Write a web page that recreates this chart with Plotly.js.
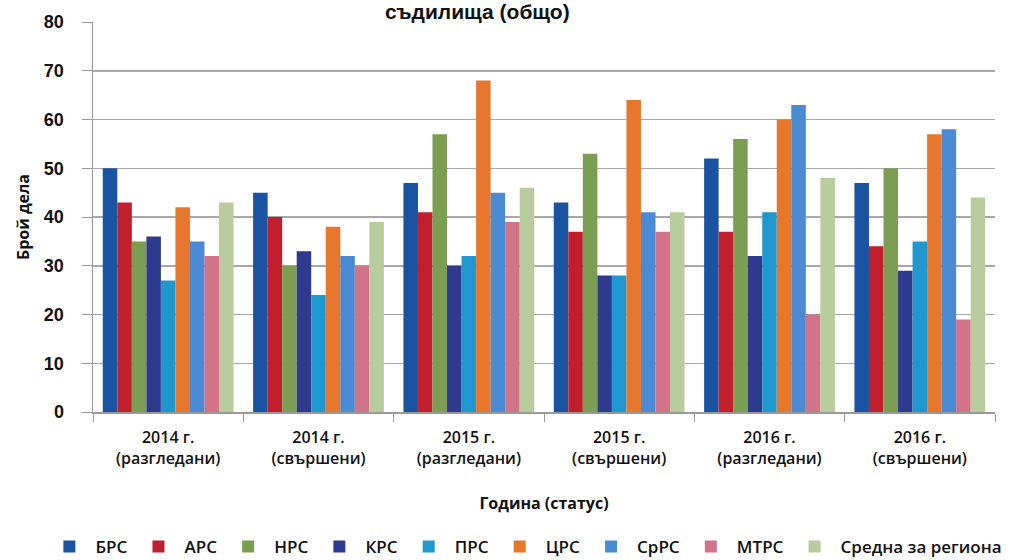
<!DOCTYPE html>
<html><head><meta charset="utf-8">
<script src="https://cdn.plot.ly/plotly-3.0.1.min.js"></script>
<style>html,body{margin:0;padding:0;background:#fff}#chart{width:1014px;height:560px}</style>
</head><body><div id="chart"></div>
<script>
var categories = ["2014 г.<br>(разгледани)", "2014 г.<br>(свършени)", "2015 г.<br>(разгледани)", "2015 г.<br>(свършени)", "2016 г.<br>(разгледани)", "2016 г.<br>(свършени)"];
var seriesNames = ["БРС", "АРС", "НРС", "КРС", "ПРС", "ЦРС", "СрРС", "МТРС", "Средна за региона"];
var brs   = [50, 45, 47, 43, 52, 47];
var ars   = [43, 40, 41, 37, 37, 34];
var nrs   = [35, 30, 57, 53, 56, 50];
var krs   = [36, 33, 30, 28, 32, 29];
var prs   = [27, 24, 32, 28, 41, 35];
var tsrs  = [42, 38, 68, 64, 60, 57];
var srrs  = [35, 32, 45, 41, 63, 58];
var mtrs  = [32, 30, 39, 37, 20, 19];
var avg   = [43, 39, 46, 41, 48, 44];
var seriesValues = [brs, ars, nrs, krs, prs, tsrs, srrs, mtrs, avg];
var colors = ["#1b53a3", "#c21f2e", "#7b9e52", "#2e3a8e", "#1e98cf", "#e8772e", "#4a8bd3", "#d27389", "#b9cc9e"];

var traces = seriesNames.map(function(n, i){
  return {type:'bar', name:n, x:categories, y:seriesValues[i],
    marker:{color:colors[i], line:{width:0}}};
});

var layout = {
  width:1014, height:560,
  paper_bgcolor:'#ffffff', plot_bgcolor:'#ffffff',
  margin:{l:93, r:19, t:22, b:148, autoexpand:false},
  title:{text:'<b>съдилища (общо)</b>', font:{family:'Liberation Sans, Arial', size:21, color:'#111'},
    x:0.426, xanchor:'center', xref:'paper', y:0.992, yref:'container', yanchor:'top'},
  barmode:'group', bargap:0.13, bargroupgap:0,
  font:{family:'Open Sans, sans-serif', color:'#111'},
  showlegend:true,
  legend:{orientation:'h', x:-0.055, xanchor:'left', y:-0.3, yanchor:'top',
    font:{size:17, color:'#111', weight:600}, itemwidth:42,
    traceorder:'normal', tracegroupgap:0},
  xaxis:{automargin:false, showline:true, linecolor:'#999', linewidth:1.5, ticks:'outside', tickson:'boundaries',
    ticklen:8, tickcolor:'#999', ticklabelstandoff:10,
    tickfont:{size:16, color:'#111', weight:600},
    title:{text:'<b>Година (статус)</b>', font:{size:16, color:'#111'}, standoff:30}},
  yaxis:{automargin:false, range:[0,80], dtick:10, showline:true, linecolor:'#999', linewidth:1.5,
    ticks:'outside', ticklen:10, tickcolor:'#999', ticklabelstandoff:14,
    gridcolor:'#a8a8a8', gridwidth:1.5, zeroline:false,
    tickfont:{size:18, color:'#111', family:'Liberation Sans, Arial', weight:'bold'},
    title:{text:'<b>Брой дела</b>', font:{size:16, color:'#111'}, standoff:10}}
};
Plotly.newPlot('chart', traces, layout, {displayModeBar:false, staticPlot:true});
</script></body></html>
